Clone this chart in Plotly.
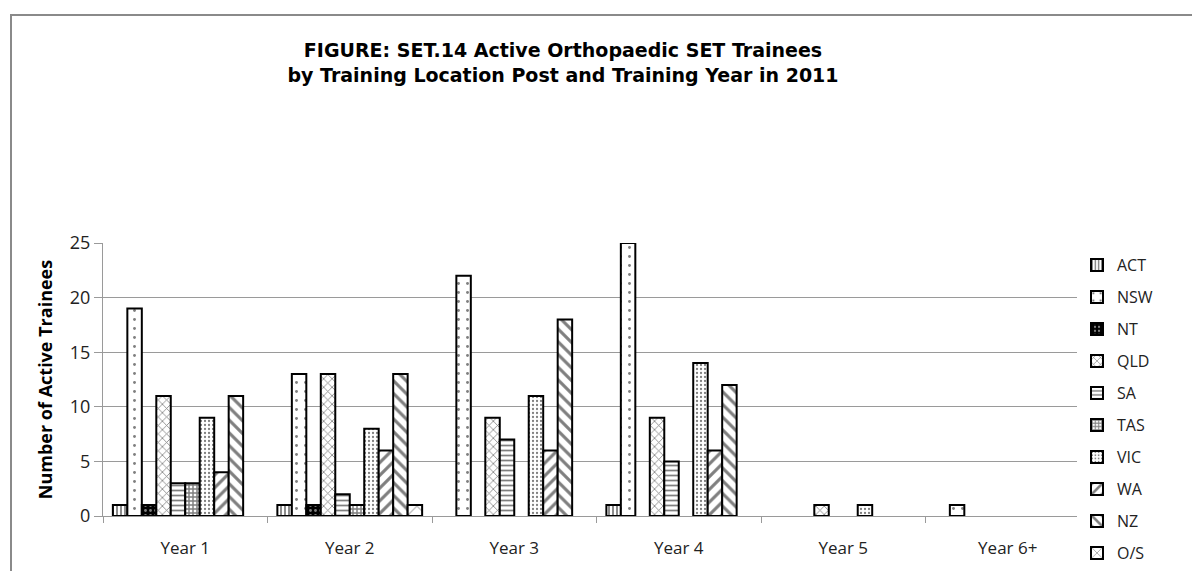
import plotly.graph_objects as go

years = ["Year 1", "Year 2", "Year 3", "Year 4", "Year 5", "Year 6+"]

ACT = [1, 1, 0, 1, 0, 0]
NSW = [19, 13, 22, 25, 0, 1]
NT = [1, 1, 0, 0, 0, 0]
QLD = [11, 13, 9, 9, 1, 0]
SA = [3, 2, 7, 5, 0, 0]
TAS = [3, 1, 0, 0, 0, 0]
VIC = [9, 8, 11, 14, 1, 0]
WA = [4, 6, 6, 6, 0, 0]
NZ = [11, 13, 18, 12, 0, 0]
OS = [0, 1, 0, 0, 0, 0]

series = [
    ("ACT", ACT, dict(shape="|", size=4, solidity=0.45, fgcolor="black", bgcolor="white")),
    ("NSW", NSW, dict(shape=".", size=9, solidity=0.08, fgcolor="black", bgcolor="white")),
    ("NT", NT, dict(shape=".", size=5, solidity=0.25, fgcolor="white", bgcolor="black")),
    ("QLD", QLD, dict(shape="x", size=6, solidity=0.25, fgcolor="black", bgcolor="white")),
    ("SA", SA, dict(shape="-", size=5, solidity=0.35, fgcolor="black", bgcolor="white")),
    ("TAS", TAS, dict(shape="+", size=4, solidity=0.6, fgcolor="black", bgcolor="white")),
    ("VIC", VIC, dict(shape=".", size=4, solidity=0.25, fgcolor="black", bgcolor="white")),
    ("WA", WA, dict(shape="/", size=9, solidity=0.35, fgcolor="black", bgcolor="white")),
    ("NZ", NZ, dict(shape="\\", size=9, solidity=0.35, fgcolor="black", bgcolor="white")),
    ("O/S", OS, dict(shape="x", size=12, solidity=0.15, fgcolor="black", bgcolor="white")),
]

fig = go.Figure()
for name, vals, pat in series:
    fig.add_trace(go.Bar(
        x=years, y=[v if v else None for v in vals], name=name,
        legendgroup=name,
        marker=dict(color="white", line=dict(color="black", width=2), pattern=pat),
    ))

# page body has an 8px margin, so work in figure coords = screen - 8
W, H = 1184, 563
L, R, T, B = 95, 102, 235, 55
pw, ph = W - L - R, H - T - B

fig.update_layout(
    width=W, height=H,
    margin=dict(l=L, r=R, t=T, b=B, autoexpand=False),
    paper_bgcolor="white", plot_bgcolor="white",
    barmode="group", bargap=0.12, bargroupgap=0,
    font=dict(family="Open Sans", size=17, color="#222"),
    title=dict(
        text="FIGURE: SET.14 Active Orthopaedic SET Trainees<br>by Training Location Post and Training Year in 2011",
        x=555 / W, xanchor="center", yref="container", y=1 - 49 / H, yanchor="top",
        font=dict(family="DejaVu Sans", size=19, color="black", weight="bold"),
    ),
    legend=dict(
        x=(1069 - L) / pw, xanchor="left", y=(H - B - 240) / ph, yanchor="top",
        font=dict(family="Open Sans", size=16, color="#222"),
        tracegroupgap=8.2, itemwidth=30, traceorder="grouped", maxheight=800,
    ),
    showlegend=True,
)

fig.update_yaxes(
    range=[0, 25], dtick=5, showgrid=True, gridcolor="#9a9a9a", gridwidth=1,
    showline=True, linecolor="#9a9a9a", linewidth=1,
    ticks="outside", ticklen=8, tickcolor="#9a9a9a",
    tickfont=dict(size=18),
    zeroline=False,
    title=dict(text="Number of Active Trainees", standoff=12,
               font=dict(family="Open Sans", size=18, color="black", weight="bold")),
)
fig.update_xaxes(
    showline=True, linecolor="#9a9a9a", linewidth=1,
    ticks="outside", ticklen=6, tickcolor="#9a9a9a", tickson="boundaries",
    tickfont=dict(size=17),
    ticklabelstandoff=17,
)

# chart-area border (top and left visible)
fig.add_shape(type="rect", xref="paper", yref="paper",
              x0=(3 - L) / pw, x1=(W + 20 - L) / pw,
              y0=-(B + 20) / ph, y1=(H - B - 7) / ph,
              line=dict(color="#8a8a8a", width=2), fillcolor="rgba(0,0,0,0)", layer="below")

fig.write_html("out.html")
